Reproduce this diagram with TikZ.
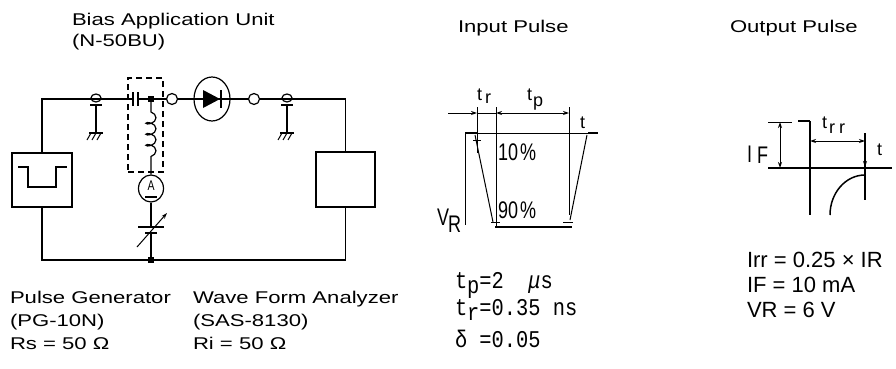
\documentclass[tikz,border=0pt]{standalone}
\usepackage{fontspec}
\setmainfont{Liberation Sans}
\newfontfamily\bmf[FakeStretch=1.3]{Liberation Sans}
\newfontfamily\narf[FakeStretch=0.75]{Liberation Sans}
\newfontfamily\monof[FakeStretch=0.85]{Liberation Mono}
\usetikzlibrary{arrows.meta,decorations.pathmorphing,shapes.geometric}
\begin{document}
\begin{tikzpicture}[x=1pt,y=-1pt,
  wire/.style={line width=1.5pt},
  thinl/.style={line width=1pt},
  thickl/.style={line width=2.4pt},
  txt/.style={inner sep=0pt, outer sep=0pt, anchor=base west},
  bm/.style={txt, font=\bmf\fontsize{17pt}{20pt}\selectfont},
  big/.style={txt, font=\fontsize{22pt}{26pt}\selectfont},
  lab/.style={txt, font=\fontsize{18pt}{20pt}\selectfont},
  tall/.style={txt, font=\narf\fontsize{24pt}{26pt}\selectfont},
  form/.style={txt, font=\monof\fontsize{24pt}{26pt}\selectfont},
  tipr/.style={-{Stealth[length=6pt,width=4pt]}},
  dimarr/.style={{Stealth[length=6pt,width=4pt]}-{Stealth[length=6pt,width=4pt]}},
  dot/.style={fill, inner sep=0pt, minimum size=6pt},
  term/.style={draw, circle, line width=1.2pt, inner sep=0pt, minimum size=11pt},
  unit/.style={draw, line width=1.5pt, inner sep=0pt}
]
\useasboundingbox (0,0) rectangle (896,369);

% ---------------- titles ----------------
\node[bm] (tbau) at (72,26) {Bias Application Unit};
\node[bm] (tbau2) at (72,47) {(N-50BU)};
\node[bm] (tin) at (458,33) {Input Pulse};
\node[bm] (tout) at (730,33) {Output Pulse};

% ---------------- circuit ----------------
\node[unit, minimum width=60pt, minimum height=54pt] (gen) at (42,180) {};
\node[unit, minimum width=59pt, minimum height=55pt] (wfa) at (345.5,179.5) {};
\draw[wire] (18,167) -- (28,167) -- (28,187) -- (56,187) -- (56,167) -- (67,167);

\coordinate (tl) at (42,99);
\coordinate (tr) at (345.5,99);
\coordinate (bl) at (42,260);
\coordinate (br) at (345.5,260);
\coordinate (cpL) at (133,99);
\coordinate (cpR) at (138,99);
\node[dot] (jt) at (151,99) {};
\node[term] (t1) at (172,99) {};
\node[term] (t2) at (254,99) {};
\node[draw, ellipse, line width=1.2pt, inner sep=0pt, minimum width=36pt, minimum height=44pt] (dio) at (212,99) {};
\node[draw, ellipse, line width=1.2pt, inner sep=0pt, minimum width=25pt, minimum height=27pt] (am) at (151,188.5) {};
\node[dot] (jb) at (151,260) {};
\coordinate (bt1) at (151,227);
\coordinate (bt2) at (151,233);

\draw[wire] (gen.north) -- (tl) -- (cpL);
\draw[wire] (cpR) -- (jt) -- (t1);
\draw[wire] (t1) -- (t2);
\draw[wire] (t2) -- (tr) -- (wfa.north);
\draw[wire] (gen.south) -- (bl) -- (br) -- (wfa.south);
\draw[wire] (am.south) -- (bt1);
\draw[wire] (bt2) -- (jb);
\draw[line width=1.2pt, decorate, decoration={coil, aspect=0.6, amplitude=5pt, segment length=11pt, pre length=13pt, post length=16pt}] (jt.center) -- (am.north);

% capacitor
\draw[line width=1.8pt] (133,92) -- (133,106);
\draw[line width=1.8pt] (138,92) -- (138,106);
% diode
\fill (203,90) -- (203,108) -- (220,99) -- cycle;
\draw[line width=1.8pt] (221,90) -- (221,108);
% dashed unit box
\node[draw, dash pattern=on 6pt off 4pt, line width=1.2pt, inner sep=0pt, minimum width=35pt, minimum height=94pt] (bau) at (145.5,125) {};
% ammeter
\node[inner sep=0pt, font=\narf\fontsize{14pt}{14pt}\selectfont] (amA) at (151,186) {A};
\draw[line width=1.5pt] (145,197) -- (157,197);
% variable DC supply
\draw[line width=1.8pt] (138,227) -- (164,227);
\draw[line width=2.6pt] (145,233) -- (157,233);
\draw[line width=1pt, tipr] (137,247) -- (167,213);

% coax connectors with ground
\foreach \gx in {96,287} {
  \draw[line width=1.2pt] (\gx,98) ellipse [x radius=5pt, y radius=4pt];
  \draw[line width=1.5pt] (\gx-6,105) -- (\gx+6,105);
  \draw[line width=1.2pt] (\gx,105) -- (\gx,133);
  \draw[line width=1.2pt] (\gx-7,133) -- (\gx+7,133);
  \foreach \dx in {-5,0,5} \draw[line width=1pt] (\gx+\dx,133) -- (\gx+\dx-4,140);
}

% circuit labels
\node[bm] (lpg1) at (10,303) {Pulse Generator};
\node[bm] (lpg2) at (10,326) {(PG-10N)};
\node[bm] (lpg3) at (10,349) {Rs = 50 Ω};
\node[bm] (lwa1) at (193,303) {Wave Form Analyzer};
\node[bm] (lwa2) at (193,326) {(SAS-8130)};
\node[bm] (lwa3) at (193,349) {Ri = 50 Ω};

% ---------------- input pulse ----------------
\coordinate (ipA) at (448,113);
\coordinate (ipB) at (477,113);
\coordinate (ipC) at (496,113);
\coordinate (ipD) at (569,113);
\draw[thinl, tipr] (ipA) -- (ipB);
\draw[thinl] (ipB) -- (ipC);
\draw[thinl, dimarr] (ipC) -- (ipD);
\draw[thinl] (477,107) -- (477,153);
\draw[thinl] (496,107) -- (496,227);
\draw[thinl] (569,107) -- (569,215);
\draw[thinl] (465,133) -- (598,133);
\draw[thickl] (465,133) -- (477,133);
\draw[thickl] (588,133) -- (598,133);
\draw[thinl] (465,133) -- (465,225);
\draw[thinl] (475,135) -- (493,222);
\draw[thinl] (473,140) -- (481,140);
\draw[thinl] (491,222) -- (500,222);
\draw[thinl] (563,222) -- (573,222);
\draw[thickl] (495,227) -- (572,227);
\draw[thinl] (570,220) -- (587,135);
\node[lab] (ltr) at (477,100) {t\kern3pt\raisebox{-3pt}{r}};
\node[lab] (ltp) at (527,100) {t\kern1pt\raisebox{-6pt}{p}};
\node[lab] (lt1) at (580,128) {t};
\node[tall] (l10) at (498,160) {10\kern2pt\%};
\node[tall] (l90) at (498,218) {90\kern2pt\%};
\node[tall] (lvr) at (437,225) {V\kern-1pt\raisebox{-7pt}{R}};
\node[form] (f1) at (455,288) {t\raisebox{-5pt}{p}=2~~\textit{μ}s};
\node[form] (f2) at (455,315) {t\raisebox{-5pt}{r}=0.35~ns};
\node[form] (f3) at (455,347) {δ~=0.05};

% ---------------- output pulse ----------------
\draw[line width=2.2pt] (768,168) -- (892,168);
\draw[line width=1.2pt] (810,121) -- (810,215);
\draw[line width=2.4pt] (798,121) -- (810,121);
\draw[thinl] (768,122) -- (792,122);
\coordinate (ifT) at (780,122);
\coordinate (ifB) at (780,168);
\draw[thinl, dimarr] (ifT) -- (ifB);
\coordinate (trL) at (810,141);
\coordinate (trR) at (865,141);
\draw[thinl, dimarr] (trL) -- (trR);
\draw[line width=1.2pt] (865,133) -- (865,200);
\draw[thinl, tipr] (865,150) -- (865,167);
\draw[line width=1.5pt] (830,215) arc [start angle=180, end angle=90, x radius=35pt, y radius=40pt];
\node[tall] (lif) at (747,162) {I\kern5pt\raisebox{-1pt}{F}};
\node[lab] (ltrr) at (822,128) {t\kern2pt\raisebox{-5pt}{r\kern4pt r}};
\node[lab] (lt2) at (877,155) {t};
\node[big] (c1) at (747,267) {Irr = 0.25 × IR};
\node[big] (c2) at (747,292) {IF = 10 mA};
\node[big] (c3) at (747,317) {VR = 6 V};
\end{tikzpicture}
\end{document}
